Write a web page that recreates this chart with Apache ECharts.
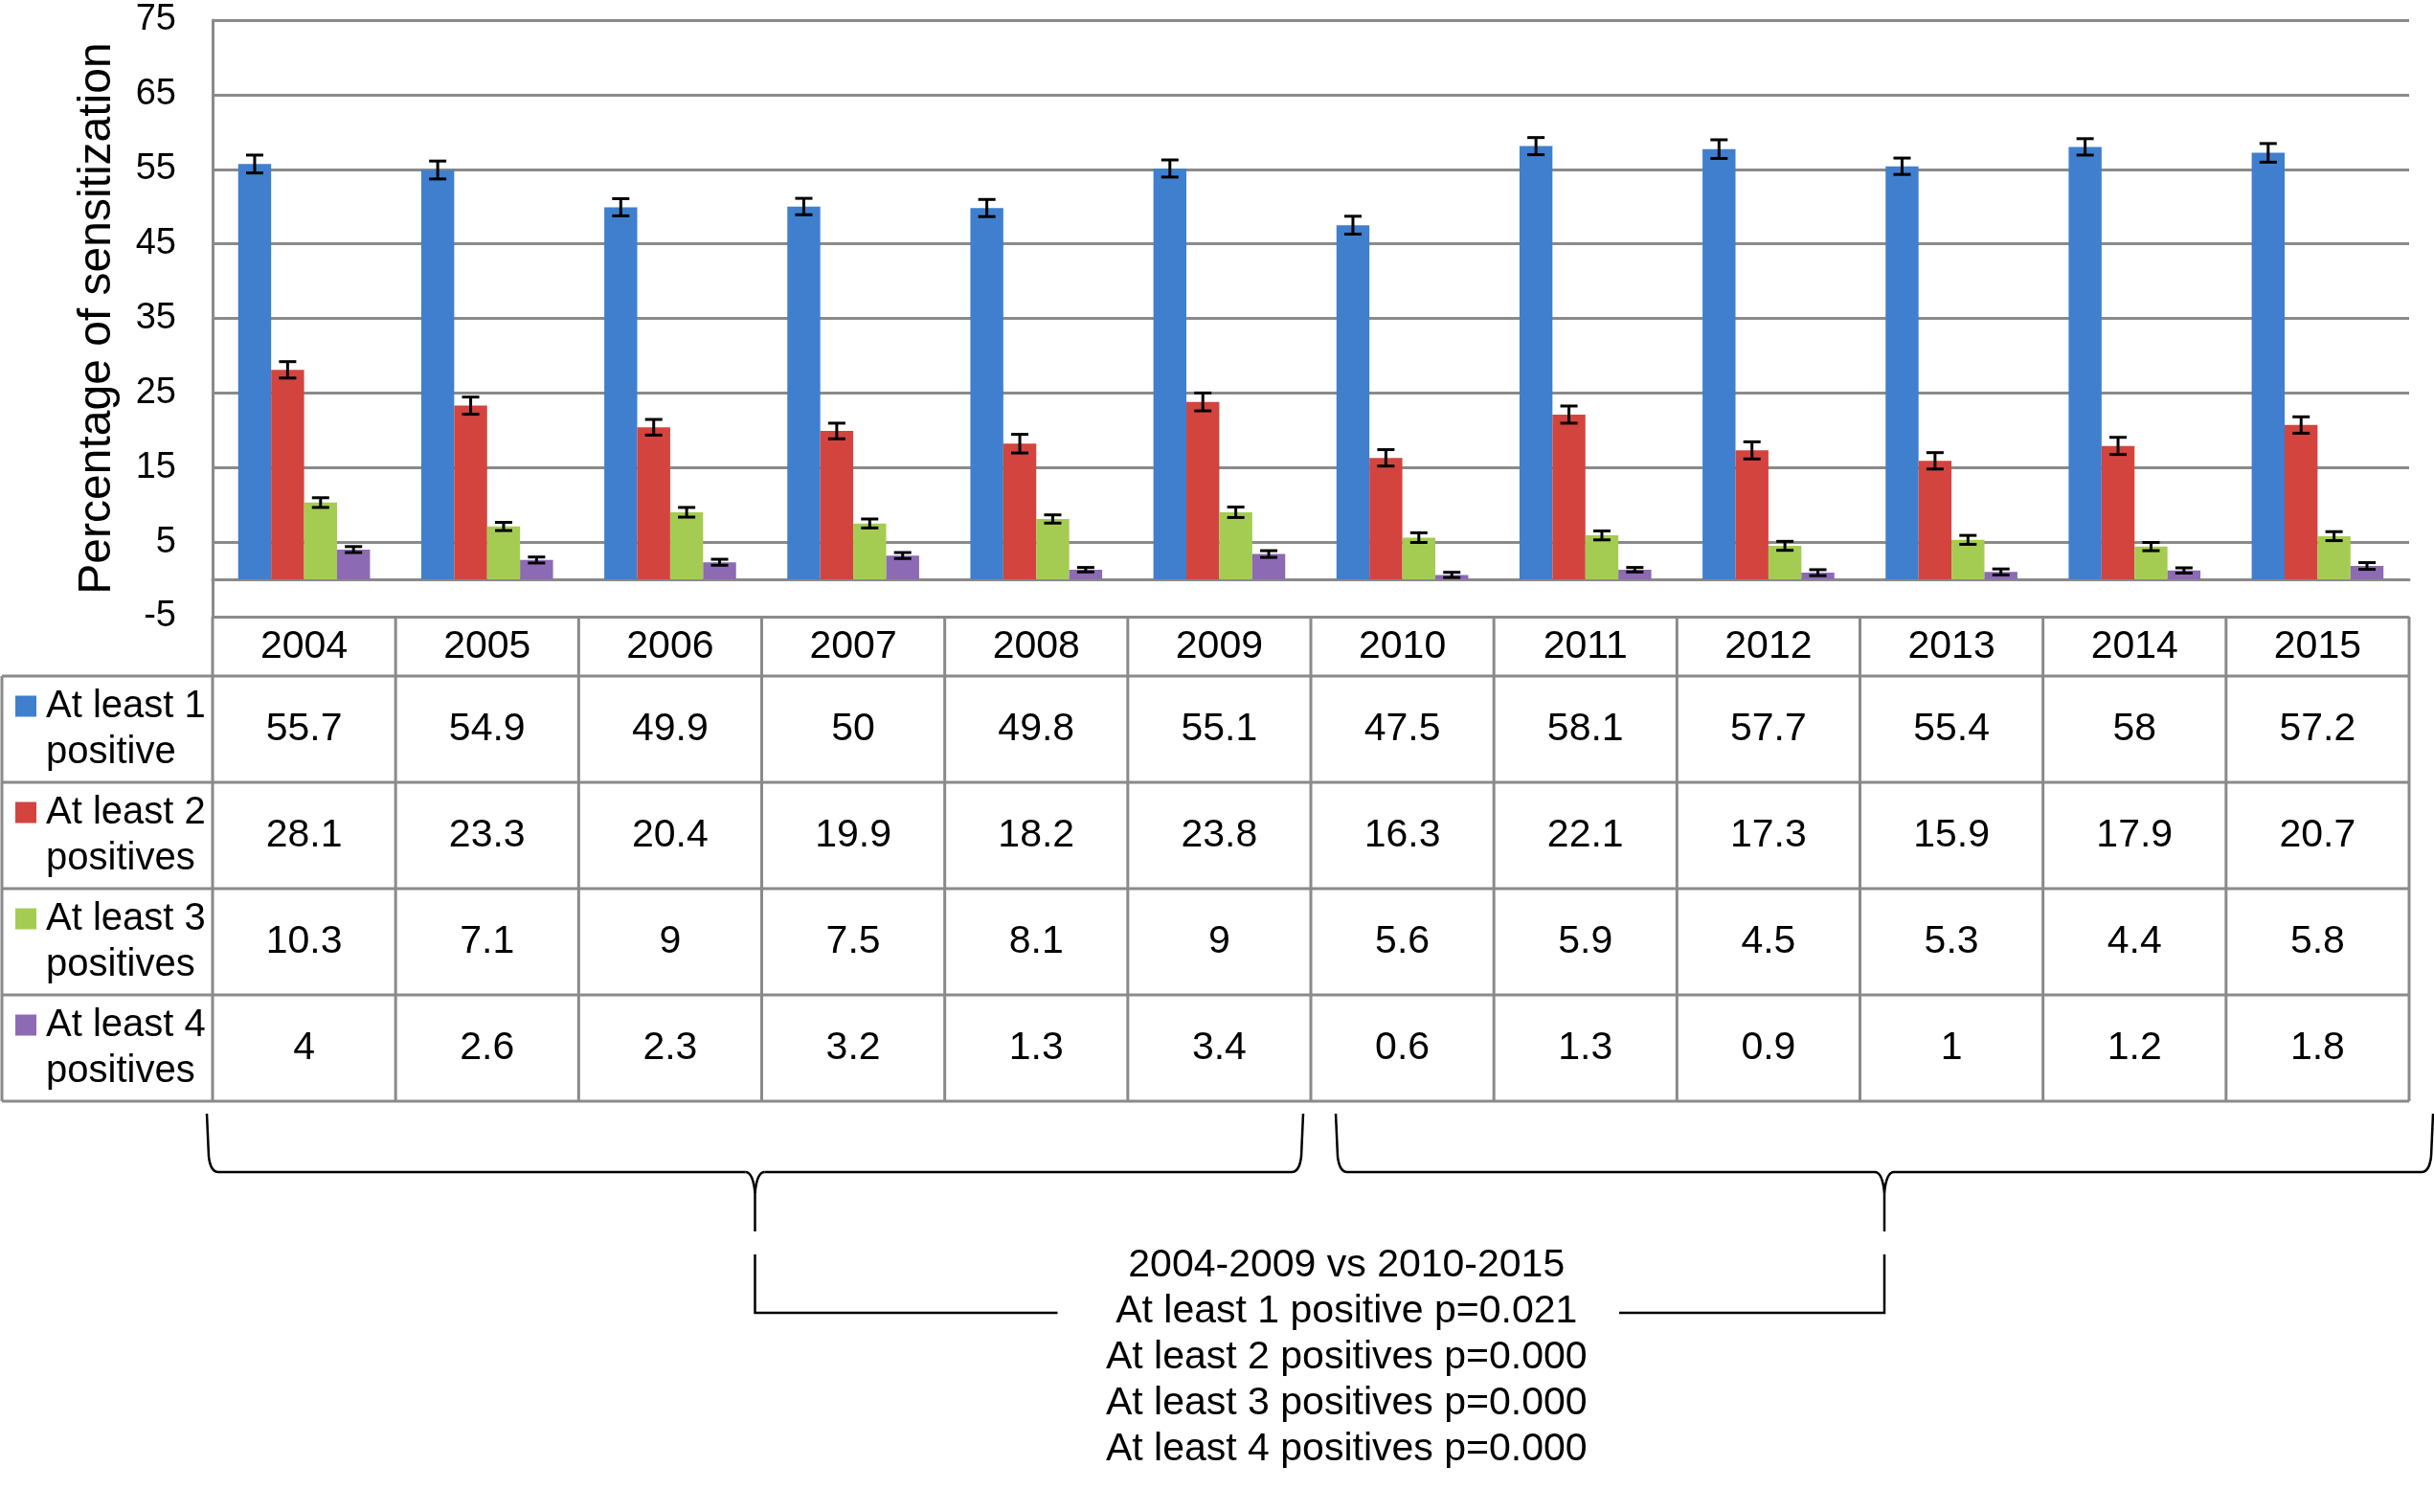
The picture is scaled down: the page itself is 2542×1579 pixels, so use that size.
<!DOCTYPE html>
<html>
<head>
<meta charset="utf-8">
<script src="https://cdn.jsdelivr.net/npm/echarts@6/dist/echarts.min.js"></script>
<style>
html,body{margin:0;padding:0;background:#fff;}
#c{width:2542px;height:1579px;}
</style>
</head>
<body>
<div id="c"></div>
<script>
// ---------------- data ----------------
const years = ['2004','2005','2006','2007','2008','2009','2010','2011','2012','2013','2014','2015'];
const seriesNames = ['At least 1 positive','At least 2 positives','At least 3 positives','At least 4 positives'];
const legendLines = [['At least 1','positive'],['At least 2','positives'],['At least 3','positives'],['At least 4','positives']];
const atLeast1 = [55.7,54.9,49.9,50,49.8,55.1,47.5,58.1,57.7,55.4,58,57.2];
const atLeast2 = [28.1,23.3,20.4,19.9,18.2,23.8,16.3,22.1,17.3,15.9,17.9,20.7];
const atLeast3 = [10.3,7.1,9,7.5,8.1,9,5.6,5.9,4.5,5.3,4.4,5.8];
const atLeast4 = [4,2.6,2.3,3.2,1.3,3.4,0.6,1.3,0.9,1,1.2,1.8];
// error bar half-widths
const err1 = [1.2,1.2,1.15,1.1,1.15,1.15,1.2,1.15,1.25,1.1,1.1,1.25];
const err2 = [1.1,1.15,1.05,1.05,1.25,1.2,1.1,1.15,1.15,1.1,1.15,1.1];
const err3 = [0.65,0.55,0.65,0.6,0.55,0.7,0.65,0.6,0.6,0.6,0.55,0.6];
const err4 = [0.4,0.4,0.4,0.4,0.3,0.45,0.35,0.3,0.4,0.4,0.35,0.45];
const yMin = -5, yMax = 75, yInterval = 10;
const yAxisTitle = 'Percentage of sensitization';
const comparisonTitle = '2004-2009 vs 2010-2015';
const pValueLines = ['At least 1 positive p=0.021','At least 2 positives p=0.000','At least 3 positives p=0.000','At least 4 positives p=0.000'];

// ---------------- style ----------------
const colors = ['#3F7FCE','#D3443F','#A5CC52','#8C6AB4'];
const FONT = 'Liberation Sans, Arial, Helvetica, sans-serif';
const GRID_COLOR = '#8a8a8a';
const CAT_GAP = 0.28;
const allValues = [atLeast1, atLeast2, atLeast3, atLeast4];
const allErrs = [err1, err2, err3, err4];

const chart = echarts.init(document.getElementById('c'), null, {renderer:'canvas'});

function errRender(s){
  return function(params, api){
    const i = api.value(0), v = api.value(1), e = api.value(2);
    const band = api.size([1,0])[0];
    const bw = band*(1-CAT_GAP)/4;
    const cx = api.coord([i, v])[0] + (s-1.5)*bw;
    const yT = api.coord([i, v+e])[1];
    const yB = api.coord([i, v-e])[1];
    const hw = 9;
    const st = {stroke:'#000', lineWidth:3};
    return {type:'group', children:[
      {type:'line', shape:{x1:cx,y1:yT,x2:cx,y2:yB}, style:st},
      {type:'line', shape:{x1:cx-hw,y1:yT,x2:cx+hw,y2:yT}, style:st},
      {type:'line', shape:{x1:cx-hw,y1:yB,x2:cx+hw,y2:yB}, style:st}
    ]};
  };
}

const series = [];
allValues.forEach((vals, s) => {
  series.push({
    type:'bar', name:seriesNames[s], data:vals,
    barGap:'0%', barCategoryGap:(CAT_GAP*100)+'%',
    itemStyle:{color:colors[s]}, silent:true, z:2
  });
});
allValues.forEach((vals, s) => {
  series.push({
    type:'custom', name:seriesNames[s]+' error',
    renderItem:errRender(s),
    data: vals.map((v,i)=>[i, v, allErrs[s][i]]),
    encode:{x:0, y:1}, z:5, silent:true
  });
});

chart.setOption({
  animation:false,
  backgroundColor:'#fff',
  textStyle:{fontFamily:FONT},
  grid:{left:222, right:26, top:21, bottom:935, containLabel:false},
  xAxis:{
    type:'category', data:years,
    axisLine:{show:true, onZero:true, lineStyle:{color:GRID_COLOR, width:3}},
    axisTick:{show:false},
    axisLabel:{show:false},
    splitLine:{show:false}
  },
  yAxis:{
    type:'value', min:yMin, max:yMax, interval:yInterval,
    name:yAxisTitle, nameLocation:'middle', nameGap:96,
    nameTextStyle:{color:'#000', fontSize:48, fontFamily:FONT},
    axisLine:{show:true, lineStyle:{color:GRID_COLOR, width:3}},
    axisTick:{show:false},
    axisLabel:{color:'#000', fontSize:38, margin:38, fontFamily:FONT},
    splitLine:{show:true, lineStyle:{color:GRID_COLOR, width:3}}
  },
  series: series
});

// ---------------- table + annotations ----------------
const xc = i => chart.convertToPixel({xAxisIndex:0}, years[i]);
const band = xc(1) - xc(0);
const plotLeft = xc(0) - band/2;
const plotRight = xc(years.length-1) + band/2;
const boundary = k => plotLeft + k*band;
const yBase = chart.convertToPixel({yAxisIndex:0}, yMin);
const YEAR_ROW_H = 62, ROW_H = 111;
const rowTop = k => yBase + YEAR_ROW_H + k*ROW_H;
const tableBottom = rowTop(4);
const tableLeft = 2;

const g = [];
const lineStyle = {stroke:GRID_COLOR, lineWidth:3};
// axis line extension & column boundaries
for (let k=0; k<=years.length; k++){
  g.push({type:'line', shape:{x1:boundary(k), y1:yBase, x2:boundary(k), y2:tableBottom}, style:lineStyle, z:10});
}
// left column border
g.push({type:'line', shape:{x1:tableLeft, y1:rowTop(0), x2:tableLeft, y2:tableBottom}, style:lineStyle, z:10});
// row lines
for (let k=0; k<=4; k++){
  g.push({type:'line', shape:{x1:tableLeft, y1:rowTop(k), x2:plotRight, y2:rowTop(k)}, style:lineStyle, z:10});
}
// year header row
for (let i=0; i<years.length; i++){
  g.push({type:'text', x:xc(i), y:yBase + YEAR_ROW_H/2 + 1, style:{
    text:years[i], fill:'#000', font:'41px '+FONT, align:'center', verticalAlign:'middle'
  }, z:11});
}
// legend cells + values
for (let s=0; s<4; s++){
  const cy = rowTop(s) + ROW_H/2;
  g.push({type:'rect', shape:{x:16, y:cy-35, width:22, height:22}, style:{fill:colors[s]}, z:11});
  g.push({type:'text', x:48, y:cy, style:{
    text:legendLines[s].join('\n'), fill:'#000', font:'40px '+FONT,
    lineHeight:48, align:'left', verticalAlign:'middle'
  }, z:11});
  for (let i=0; i<years.length; i++){
    g.push({type:'text', x:xc(i), y:cy, style:{
      text:String(allValues[s][i]), fill:'#000', font:'41px '+FONT,
      align:'center', verticalAlign:'middle'
    }, z:11});
  }
}
// braces built from lines and bezier curves
const braceStyle = {stroke:'#000', lineWidth:2.5, fill:null};
function ln(x1,y1,x2,y2){ return {type:'line', shape:{x1,y1,x2,y2}, style:braceStyle, z:12}; }
function qc(x1,y1,cx,cy,x2,y2){ return {type:'bezierCurve', shape:{x1,y1,x2,y2,cpx1:cx,cpy1:cy}, style:braceStyle, z:12}; }
function brace(sx, ex, topY, midY, tipY){
  const tip = (sx+ex)/2;
  return [
    ln(sx, topY, sx+2, midY-16),
    qc(sx+2, midY-16, sx+4, midY, sx+12, midY),
    ln(sx+12, midY, tip-10, midY),
    qc(tip-10, midY, tip-2, midY, tip, midY+22),
    qc(tip+10, midY, tip+2, midY, tip, midY+22),
    ln(tip, midY+22, tip, tipY),
    ln(tip+10, midY, ex-12, midY),
    qc(ex-12, midY, ex-4, midY, ex-2, midY-16),
    ln(ex-2, midY-16, ex, topY)
  ];
}
const bTop = tableBottom + 13, bMid = tableBottom + 74, bTip = tableBottom + 136;
const lsx = plotLeft - 6, lex = boundary(6) - 8;
const rsx = boundary(6) + 26, rex = plotRight + 25;
const tipL = (lsx+lex)/2, tipR = (rsx+rex)/2;
brace(lsx, lex, bTop, bMid, bTip).forEach(e => g.push(e));
brace(rsx, rex, bTop, bMid, bTip).forEach(e => g.push(e));
// lower bracket
const lbTop = tableBottom + 160, lbY = tableBottom + 221;
g.push({type:'polyline', shape:{points:[[tipL,lbTop],[tipL,lbY],[tipL+316,lbY]]}, style:{stroke:'#000', lineWidth:2.5, fill:null}, z:12});
g.push({type:'polyline', shape:{points:[[tipR-277,lbY],[tipR,lbY],[tipR,lbTop]]}, style:{stroke:'#000', lineWidth:2.5, fill:null}, z:12});
// comparison text
const textLines = [comparisonTitle].concat(pValueLines);
const textCx = (tipL+tipR)/2 + 28;
textLines.forEach((t, k) => {
  g.push({type:'text', x:textCx, y:tableBottom + 172 + k*48, style:{
    text:t, fill:'#000', font:'41px '+FONT, align:'center', verticalAlign:'middle'
  }, z:12});
});

chart.setOption({graphic: g});
</script>
</body>
</html>
